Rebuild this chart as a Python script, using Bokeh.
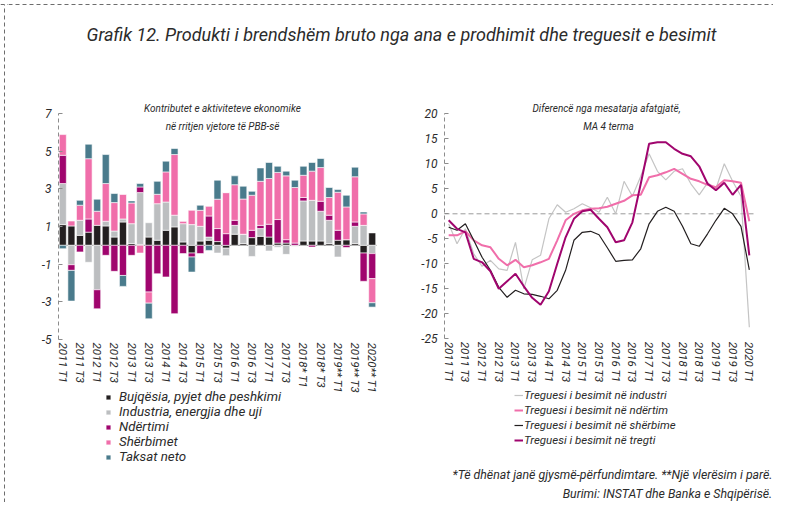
import math
from bokeh.plotting import figure
from bokeh.models import Range1d, Label, Legend, LegendItem, FixedTicker
from bokeh.layouts import row, column
from bokeh.embed import file_html
from bokeh.resources import INLINE

FONT = "Roboto"
TXT = "#2b2b2b"

# ---------------- data: left chart (contributions, pp) ----------------
bar_quarters = list(range(37))  # 2011 T1 ... 2020 T1
left_tick_labels = ["2011 T1", "2011 T3", "2012 T1", "2012 T3", "2013 T1", "2013 T3",
                    "2014 T1", "2014 T3", "2015 T1", "2015 T3", "2016 T1", "2016 T3",
                    "2017 T1", "2017 T3", "2018* T1", "2018* T3", "2019** T1",
                    "2019** T3", "2020** T1"]
left_yticks = [-5, -3, -1, 1, 3, 5, 7]
bujqesia = [1.10, 1.03, 0.53, 0.70, 1.06, 1.03, 0.44, 1.24, 0.10, 0.05, 0.44, 0.27, 0.80,
            0.98, 0.18, -0.41, 0.23, 0.27, 0.20, -0.15, 0.59, 0.09, 0.41, 0.48, 0.44, 0.12,
            0.12, 0.00, 0.23, 0.23, 0.23, 0.09, 0.27, 0.30, 0.09, -0.41, 0.66]
industria = [2.18, -1.03, 0.80, -0.90, -2.36, 0.25, 0.32, 0.16, 1.05, 2.75, 0.76, 1.94, 1.50,
             0.62, 0.97, 1.10, 0.78, 0.17, -0.41, -0.40, 0.47, 0.50, -0.59, 0.41, -0.30,
             -0.10, -0.48, -0.05, 2.13, 2.16, 1.58, 1.24, -0.62, 0.00, 0.92, 1.06, -0.44]
ndertimi = [1.50, -0.30, -0.35, 0.70, -1.01, -0.53, -1.38, -1.60, -0.53, 0.30, -2.48, -1.51,
            -1.68, -3.63, -0.44, -0.21, -0.44, 1.12, 0.69, 0.62, 0.27, 0.00, 0.39, 0.17, 0.68,
            1.25, 0.18, 0.12, 0.18, -0.09, 0.53, 0.27, 0.53, -0.12, 0.23, -1.50, -1.33]
sherbimet = [1.10, 0.26, 0.80, 3.20, 0.75, 2.00, 1.51, 1.30, 1.10, -0.41, -0.59, 0.50, 1.60,
             3.22, 0.14, 0.76, 0.85, 0.51, 1.56, 2.18, 1.89, 1.87, 1.86, 2.34, 2.43, 2.50,
             3.39, 2.95, 1.18, 1.55, 1.79, 0.94, 2.02, 1.74, 2.40, 0.61, -1.28]
taksat = [-0.18, -1.63, 0.26, 0.77, 0.64, 1.54, 0.48, -0.58, 0.11, 0.18, -0.83, 0.69, 0.57,
          0.32, 0.00, -0.80, 0.27, -0.27, 1.01, 0.00, 0.47, 0.68, 0.21, 0.71, 0.85, 0.33,
          0.25, 0.39, 0.48, 0.46, 0.48, 0.53, 0.14, 0.62, 0.51, 0.10, -0.23]
bar_names = ["Bujqësia, pyjet dhe peshkimi", "Industria, energjia dhe uji", "Ndërtimi",
             "Shërbimet", "Taksat neto"]
bar_colors = ["#231f20", "#bcbec0", "#a0056e", "#f06eaa", "#4a7b8c"]

# ---------------- data: right chart (confidence indicators) ----------------
line_quarters = list(range(37))
right_tick_labels = ["2011 T1", "2011 T3", "2012 T1", "2012 T3", "2013 T1", "2013 T3",
                     "2014 T1", "2014 T3", "2015 T1", "2015 T3", "2016 T1", "2016 T3",
                     "2017 T1", "2017 T3", "2018 T1", "2018 T3", "2019 T1", "2019 T3",
                     "2020 T1"]
right_yticks = [-25, -20, -15, -10, -5, 0, 5, 10, 15, 20]
industri = [-2.0, -6.0, -3.0, -8.0, -10.5, -9.3, -11.0, -11.3, -5.7, -15.0, -9.2, -8.3, -1.0,
            1.8, 0.3, 1.0, 2.0, 1.2, 0.3, 3.3, 0.0, 6.5, 3.5, 7.5, 12.0, 8.5, 6.8, 8.5, 9.0,
            6.0, 3.8, 6.2, 5.0, 10.0, 6.5, 3.5, -22.7]
ndertim = [-4.3, -4.3, -3.5, -5.3, -6.3, -6.7, -9.0, -10.3, -9.2, -10.7, -10.3, -9.7, -9.0,
           -5.3, -1.3, 0.0, 0.7, 1.0, 1.1, 1.4, 2.0, 2.6, 3.7, 3.8, 7.3, 7.7, 8.3, 9.0, 8.0,
           7.0, 6.5, 5.8, 5.3, 6.7, 6.5, 6.2, -1.5]
sherbime = [-2.7, -3.3, -2.0, -5.3, -8.7, -11.3, -14.7, -16.7, -15.3, -16.0, -16.1, -16.5,
            -17.0, -15.3, -11.3, -5.3, -3.7, -3.5, -4.2, -6.8, -9.5, -9.3, -9.2, -7.0, -2.0,
            0.5, 1.3, 0.5, -2.5, -6.0, -6.5, -4.0, -1.3, 1.1, 0.0, -2.5, -11.2]
tregti = [-1.3, -3.0, -3.7, -9.0, -9.7, -11.5, -15.0, -13.5, -12.0, -14.5, -16.8, -18.2,
          -15.5, -10.0, -4.7, -1.0, 0.5, 0.8, -1.0, -2.7, -5.7, -5.3, -1.7, 6.0, 14.0, 14.3,
          14.3, 13.0, 12.0, 11.5, 9.5, 6.0, 4.7, 6.2, 3.8, 5.8, -8.3]
line_names = ["Treguesi i besimit në industri", "Treguesi i besimit në ndërtim",
              "Treguesi i besimit në shërbime", "Treguesi i besimit në tregti"]
line_colors = ["#c4c4c4", "#f06eaa", "#231f20", "#a0056e"]
line_widths = [1.2, 2.0, 1.2, 2.0]


class Mapper:
    """Linear map between figure pixels (from top-left) and data values."""
    def __init__(self, W, H, xa, pxa, xb, pxb, ya, pya, yb, pyb):
        self.kx = (pxb - pxa) / (xb - xa)
        self.x0 = xa - pxa / self.kx
        self.ky = (pyb - pya) / (yb - ya)  # negative (pixels grow downwards)
        self.y0 = ya - pya / self.ky
        self.W, self.H = W, H

    def x(self, px):
        return self.x0 + px / self.kx

    def y(self, py):
        return self.y0 + py / self.ky

    def ranges(self):
        return (Range1d(self.x(0), self.x(self.W)), Range1d(self.y(self.H), self.y(0)))


def chart_figure(m):
    xr, yr = m.ranges()
    p = figure(width=m.W, height=m.H, x_range=xr, y_range=yr, toolbar_location=None,
               output_backend="svg", min_border=0)
    p.xgrid.visible = False
    p.ygrid.visible = False
    p.outline_line_color = None
    return p


def style_axes(p, yticks, xlabels, x_at, y_at):
    p.yaxis.fixed_location = x_at
    p.yaxis.bounds = (min(yticks), max(yticks))
    p.yaxis.ticker = FixedTicker(ticks=yticks)
    p.yaxis.major_label_overrides = {t: str(t) for t in yticks}
    p.yaxis.axis_line_color = "#8c8c8c"
    p.yaxis.axis_line_dash = "4 3"
    p.yaxis.major_tick_line_color = "#8c8c8c"
    p.yaxis.major_tick_in = 4
    p.yaxis.major_tick_out = 0
    p.yaxis.minor_tick_line_color = None
    p.yaxis.major_label_text_font = FONT
    p.yaxis.major_label_text_font_style = "italic"
    p.yaxis.major_label_text_font_size = "12px"
    p.yaxis.major_label_text_color = TXT
    p.yaxis.major_label_standoff = 7
    p.xaxis.fixed_location = y_at
    p.xaxis.ticker = FixedTicker(ticks=list(range(0, 37, 2)))
    p.xaxis.major_label_overrides = {2 * k: lab for k, lab in enumerate(xlabels)}
    p.xaxis.major_label_orientation = -math.pi / 2
    p.xaxis.axis_line_color = None
    p.xaxis.major_tick_line_color = None
    p.xaxis.minor_tick_line_color = None
    p.xaxis.major_label_text_font = FONT
    p.xaxis.major_label_text_font_style = "italic"
    p.xaxis.major_label_text_font_size = "11.5px"
    p.xaxis.major_label_text_color = TXT
    p.xaxis.major_label_standoff = -3


def add_text(p, x, y, text, size, align="center"):
    p.add_layout(Label(x=x, y=y, text=text, text_font=FONT, text_font_style="italic",
                       text_font_size=size, text_color=TXT, text_align=align,
                       text_baseline="middle"))


TOP = 88  # height of the title band

# ---------------- decorative strip (left dashed border) ----------------
strip = figure(width=8, height=TOP + 414, x_range=Range1d(0, 8), y_range=Range1d(0, TOP + 414),
               x_axis_type=None, y_axis_type=None, toolbar_location=None,
               output_backend="svg", min_border=0)
strip.outline_line_color = None
strip.xgrid.visible = False
strip.ygrid.visible = False
strip.line([4, 4], [0, TOP + 410], line_color="#6d6d6d", line_dash="4 3", line_width=1)
strip.line([0, 8], [TOP + 410, TOP + 410], line_color="#6d6d6d", line_dash="4 3", line_width=1)

# ---------------- title figure ----------------
tfig = figure(width=765, height=TOP, x_range=Range1d(0, 765), y_range=Range1d(0, TOP),
              x_axis_type=None, y_axis_type=None, toolbar_location=None,
              output_backend="svg", min_border=0)
tfig.outline_line_color = None
tfig.xgrid.visible = False
tfig.ygrid.visible = False
tfig.line([0, 765], [TOP - 4, TOP - 4], line_color="#6d6d6d", line_dash="4 3", line_width=1)
add_text(tfig, 393, TOP - 34,
         "Grafik 12. Produkti i brendshëm bruto nga ana e prodhimit dhe treguesit e besimit",
         "18px")

# ---------------- left chart ----------------
ml = Mapper(385, 414, -0.5, 50, 36.5, 368, 7, 25, -5, 251)
pl = chart_figure(ml)
style_axes(pl, left_yticks, left_tick_labels, -0.5, -5)
pl.line([bar_quarters[0] - 0.5, bar_quarters[-1] + 0.5], [0, 0], line_color="#7a7a7a",
        line_width=1)

pos_base = [0.0] * len(bar_quarters)
neg_base = [0.0] * len(bar_quarters)
bar_renderers = []
for vals, col in zip([bujqesia, industria, ndertimi, sherbimet, taksat], bar_colors):
    bottoms, tops = [], []
    for i, v in enumerate(vals):
        if v >= 0:
            b = pos_base[i]
            pos_base[i] = b + v
        else:
            b = neg_base[i]
            neg_base[i] = b + v
        bottoms.append(b)
        tops.append(b + v)
    r = pl.vbar(x=bar_quarters, bottom=bottoms, top=tops, width=0.82, fill_color=col,
                line_color="white", line_width=0.6)
    bar_renderers.append(r)

lleg = Legend(items=[LegendItem(label=n, renderers=[r]) for n, r in zip(bar_names, bar_renderers)],
              location=(97, 38), padding=0, spacing=0, margin=0,
              glyph_width=6, glyph_height=6, label_height=15, label_standoff=8,
              border_line_color=None, background_fill_alpha=0,
              label_text_font=FONT, label_text_font_style="italic",
              label_text_font_size="13.3px", label_text_color=TXT)
pl.add_layout(lleg)
add_text(pl, ml.x(214), ml.y(20.3), "Kontributet e aktiviteteve ekonomike", "10px")
add_text(pl, ml.x(214), ml.y(38.2), "në rritjen vjetore të PBB-së", "10px")

# ---------------- right chart ----------------
mr = Mapper(380, 414, -0.5, 51, 36.5, 360, 20, 25.3, -25, 250.3)
pr = chart_figure(mr)
style_axes(pr, right_yticks, right_tick_labels, -0.5, -25)
pr.line([line_quarters[0] - 0.5, line_quarters[-1] + 0.5], [0, 0], line_color="#9a9a9a",
        line_width=1, line_dash="5 3")
line_renderers = []
for vals, col, w in zip([industri, ndertim, sherbime, tregti], line_colors, line_widths):
    line_renderers.append(pr.line(line_quarters, vals, line_color=col, line_width=w))

rleg = Legend(items=[LegendItem(label=n, renderers=[r]) for n, r in zip(line_names, line_renderers)],
              location=(121, 55), padding=0, spacing=0, margin=0,
              glyph_width=9, glyph_height=14, label_height=15, label_standoff=1,
              border_line_color=None, background_fill_alpha=0,
              label_text_font=FONT, label_text_font_style="italic",
              label_text_font_size="11.5px", label_text_color=TXT)
pr.add_layout(rleg)
add_text(pr, mr.x(213), mr.y(20.3), "Diferencë nga mesatarja afatgjatë,", "10px")
add_text(pr, mr.x(215), mr.y(38.2), "MA 4 terma", "10px")
add_text(pr, mr.x(379), mr.y(386), "*Të dhënat janë gjysmë-përfundimtare. **Një vlerësim i parë.",
         "12.3px", align="right")
add_text(pr, mr.x(379), mr.y(405), "Burimi: INSTAT dhe Banka e Shqipërisë.", "12.3px",
         align="right")

layout = row(strip, column(tfig, row(pl, pr)))
open("out.html", "w").write(file_html(layout, INLINE))
